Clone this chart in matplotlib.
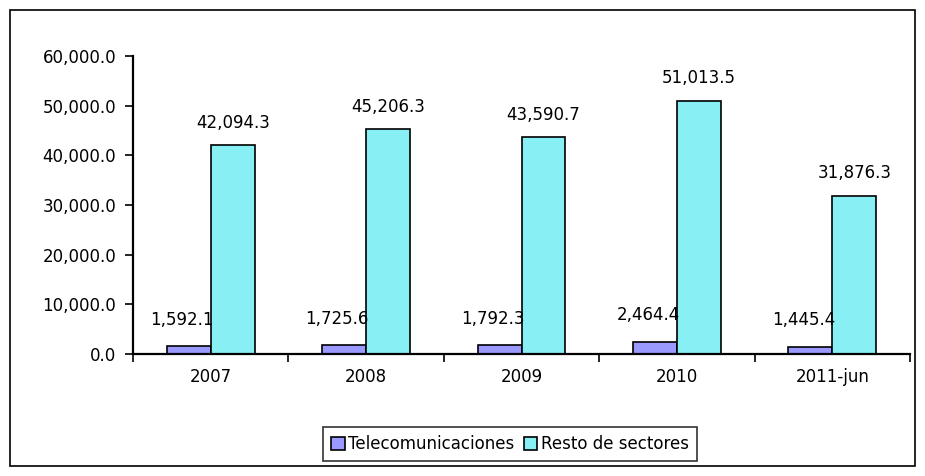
import numpy as np
import matplotlib.pyplot as plt
from matplotlib.patches import Rectangle

categories = ["2007", "2008", "2009", "2010", "2011-jun"]
telecom = [1592.1, 1725.6, 1792.3, 2464.4, 1445.4]
resto = [42094.3, 45206.3, 43590.7, 51013.5, 31876.3]

plt.rcParams['font.family'] = ['DejaVu Sans']
fs = 12
fig = plt.figure(figsize=(9.25, 4.76), dpi=100)
ax = fig.add_axes([0.1438, 0.2563, 0.84, 0.6261])

# outer frame of the chart
fig.patches.append(Rectangle((10 / 925, 10 / 476), 905 / 925, 456 / 476,
                             transform=fig.transFigure, fill=False,
                             edgecolor="black", linewidth=1.2))

x = np.arange(len(categories))
w = 0.283
b1 = ax.bar(x - w / 2, telecom, w, color="#9999FF", edgecolor="black", linewidth=1.2,
            label="Telecomunicaciones")
b2 = ax.bar(x + w / 2, resto, w, color="#88F0F4", edgecolor="black", linewidth=1.2,
            label="Resto de sectores")

for xi, v in zip(x, telecom):
    ax.annotate(f"{v:,.1f}", (xi - w / 2, v), xytext=(-5, 19), textcoords="offset points",
                ha="center", va="center", fontsize=fs)
for xi, v in zip(x, resto):
    ax.annotate(f"{v:,.1f}", (xi + w / 2, v), xytext=(0, 16), textcoords="offset points",
                ha="center", va="center", fontsize=fs)

ax.set_xlim(-0.5, len(categories) - 0.5)
ax.set_ylim(0, 60000)
ax.set_yticks(np.arange(0, 60001, 10000))
ax.set_yticklabels([f"{t:,.1f}" for t in np.arange(0, 60001, 10000)], fontsize=fs)
ax.set_xticks(np.arange(-0.5, len(categories), 1))
ax.set_xticklabels([])
ax.set_xticks(x, minor=True)
ax.set_xticklabels(categories, minor=True, fontsize=fs)
ax.tick_params(axis="x", which="minor", length=0, pad=10)
ax.tick_params(axis="x", which="major", length=6, width=1.2, direction="out")
ax.tick_params(axis="y", length=6, width=1.2, pad=6)
for s in ["top", "right"]:
    ax.spines[s].set_visible(False)
for s in ["left", "bottom"]:
    ax.spines[s].set_linewidth(1.6)

fig.legend(handles=[b1, b2], loc="center", bbox_to_anchor=(510 / 925, 1 - 444 / 476),
           ncol=2, frameon=True, fancybox=False, edgecolor="black", fontsize=fs,
           handlelength=0.8, handleheight=0.8, handletextpad=0.2, columnspacing=0.6,
           borderpad=0.5)
fig.legends[0].get_frame().set_linewidth(1.2)

plt.savefig("out.png", dpi=100)
